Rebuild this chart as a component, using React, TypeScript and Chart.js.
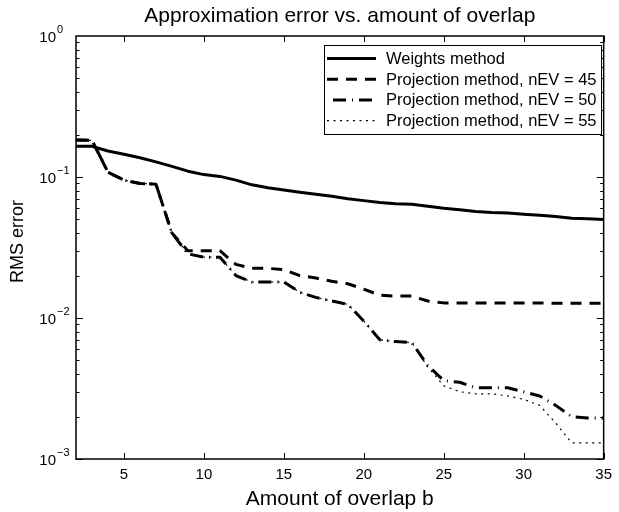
import React, { useEffect, useRef } from "react";
import { Chart, registerables } from "chart.js";

Chart.register(...registerables);

// Overlap b (x values)
const overlap = [
  2, 3, 4, 5, 6, 7, 8, 9, 10, 11, 12, 13, 14, 15, 16, 17, 18, 19, 20, 21, 22,
  23, 24, 25, 26, 27, 28, 29, 30, 31, 32, 33, 34, 35,
];

// RMS error for each method
const weightsMethod = [
  0.165, 0.165, 0.153, 0.145, 0.137, 0.128, 0.119, 0.11, 0.104, 0.101, 0.095,
  0.088, 0.084, 0.081, 0.078, 0.0755, 0.073, 0.07, 0.068, 0.066, 0.0645, 0.064,
  0.062, 0.06, 0.0585, 0.057, 0.056, 0.0555, 0.0545, 0.0535, 0.0525, 0.051,
  0.0505, 0.05,
];
const projection45 = [
  0.183, 0.182, 0.108, 0.095, 0.09, 0.089, 0.04, 0.03, 0.03, 0.03, 0.024,
  0.0225, 0.0225, 0.022, 0.02, 0.0192, 0.0182, 0.0175, 0.016, 0.0145, 0.0143,
  0.0143, 0.0132, 0.0128, 0.0128, 0.0128, 0.0128, 0.0128, 0.0128, 0.0128,
  0.0127, 0.0127, 0.0127, 0.0127,
];
const projection50 = [
  0.183, 0.182, 0.108, 0.095, 0.09, 0.089, 0.04, 0.0285, 0.027, 0.027, 0.02,
  0.018, 0.018, 0.018, 0.0152, 0.014, 0.0132, 0.0125, 0.0095, 0.007, 0.0068,
  0.0067, 0.0046, 0.0036, 0.0035, 0.0032, 0.0032, 0.0032, 0.003, 0.0028,
  0.0024, 0.002, 0.00195, 0.00195,
];
const projection55 = [
  0.183, 0.182, 0.108, 0.095, 0.09, 0.089, 0.04, 0.0285, 0.027, 0.027, 0.02,
  0.018, 0.018, 0.018, 0.0152, 0.014, 0.0132, 0.0125, 0.0095, 0.007, 0.0068,
  0.0067, 0.0045, 0.0033, 0.003, 0.0029, 0.0029, 0.0028, 0.00265, 0.0024,
  0.0018, 0.0013, 0.0013, 0.0013,
];

const seriesNames = [
  "Weights method",
  "Projection method, nEV = 45",
  "Projection method, nEV = 50",
  "Projection method, nEV = 55",
];

// Axis ticks
const xTicks = [5, 10, 15, 20, 25, 30, 35];
const yDecades = [1e-3, 1e-2, 1e-1, 1];
const yExponents = ["\u22123", "\u22122", "\u22121", "0"];

const FONT = '"Liberation Sans", Arial, Helvetica, sans-serif';

type LineStyle = { width: number; dash: number[]; offset: number };
const lineStyles: LineStyle[] = [
  { width: 3, dash: [], offset: 0 },
  { width: 3, dash: [11, 8], offset: 0 },
  { width: 3, dash: [13, 6, 1, 6], offset: 20 },
  { width: 1.2, dash: [2, 4.5], offset: 0 },
];

const toPoints = (ys: number[]) => overlap.map((b, i) => ({ x: b, y: ys[i] }));

// Frame, inward ticks, tick labels, titles and boxed legend
const axesDecor = {
  id: "axesDecor",
  afterDraw(chart: any) {
    const { ctx, chartArea, scales } = chart;
    const { left, right, top, bottom } = chartArea;
    const x = scales.x;
    const y = scales.y;
    ctx.save();

    // tick marks (inside the box, on all four sides)
    ctx.strokeStyle = "#000";
    ctx.lineWidth = 1;
    ctx.setLineDash([]);
    ctx.beginPath();
    for (const v of xTicks) {
      const px = Math.round(x.getPixelForValue(v)) + 0.5;
      ctx.moveTo(px, bottom);
      ctx.lineTo(px, bottom - 6);
      ctx.moveTo(px, top);
      ctx.lineTo(px, top + 6);
    }
    for (let k = 0; k < yDecades.length - 1; k++) {
      for (let m = 1; m <= 9; m++) {
        const v = yDecades[k] * m;
        const py = Math.round(y.getPixelForValue(v)) + 0.5;
        const len = m === 1 ? 7 : 3.5;
        ctx.moveTo(left, py);
        ctx.lineTo(left + len, py);
        ctx.moveTo(right, py);
        ctx.lineTo(right - len, py);
      }
    }
    ctx.stroke();

    // axes box
    ctx.lineWidth = 1.5;
    ctx.strokeRect(left, top, right - left, bottom - top);

    // y tick labels: 10 with superscript exponent
    ctx.fillStyle = "#000";
    yDecades.forEach((v, i) => {
      const py = y.getPixelForValue(v);
      ctx.font = `15px ${FONT}`;
      ctx.textAlign = "right";
      ctx.textBaseline = "alphabetic";
      ctx.fillText("10", 56, py + 6);
      ctx.font = `11px ${FONT}`;
      ctx.textAlign = "left";
      ctx.fillText(yExponents[i], 57, py - 3);
    });

    // title
    ctx.textAlign = "center";
    ctx.textBaseline = "alphabetic";
    ctx.font = `21px ${FONT}`;
    ctx.fillText("Approximation error vs. amount of overlap", (left + right) / 2, 22);

    // x axis label
    ctx.font = `21px ${FONT}`;
    ctx.fillText("Amount of overlap b", (left + right) / 2, 505);

    // y axis label
    ctx.save();
    ctx.translate(23, (top + bottom) / 2 - 6);
    ctx.rotate(-Math.PI / 2);
    ctx.font = `18px ${FONT}`;
    ctx.fillText("RMS error", 0, 0);
    ctx.restore();

    // legend
    const lx = 324;
    const ly = 45;
    const lw = 277;
    const lh = 89;
    ctx.fillStyle = "#fff";
    ctx.fillRect(lx, ly, lw, lh);
    ctx.strokeStyle = "#000";
    ctx.lineWidth = 1;
    ctx.strokeRect(lx + 0.5, ly + 0.5, lw, lh);
    seriesNames.forEach((name, i) => {
      const ry = ly + 13.5 + i * 20.7;
      const st = lineStyles[i];
      ctx.lineWidth = st.width;
      ctx.setLineDash(st.dash);
      ctx.lineDashOffset = st.offset;
      ctx.beginPath();
      ctx.moveTo(lx + 3, ry);
      ctx.lineTo(lx + 52, ry);
      ctx.stroke();
      ctx.setLineDash([]);
      ctx.lineDashOffset = 0;
      ctx.fillStyle = "#000";
      ctx.font = `16.5px ${FONT}`;
      ctx.textAlign = "left";
      ctx.textBaseline = "middle";
      ctx.fillText(name, lx + 62, ry + 1);
    });

    ctx.restore();
  },
};

export default function App() {
  const canvasRef = useRef<HTMLCanvasElement | null>(null);

  useEffect(() => {
    const canvas = canvasRef.current;
    if (!canvas) return;
    const seriesData = [weightsMethod, projection45, projection50, projection55];
    const chart = new Chart(canvas, {
      type: "line",
      data: {
        datasets: seriesData.map((ys, i) => ({
          label: seriesNames[i],
          data: toPoints(ys),
          borderColor: "#000",
          backgroundColor: "#000",
          borderWidth: lineStyles[i].width,
          borderDash: lineStyles[i].dash,
          borderJoinStyle: "round" as const,
          pointRadius: 0,
          fill: false,
          tension: 0,
        })),
      },
      options: {
        responsive: false,
        animation: false,
        devicePixelRatio: 1,
        layout: { padding: { top: 36, right: 8, left: 0, bottom: 0 } },
        plugins: {
          legend: { display: false },
          title: { display: false },
          tooltip: { enabled: false },
        },
        scales: {
          x: {
            type: "linear",
            min: 2,
            max: 35,
            grid: { display: false, drawTicks: false },
            border: { display: false },
            afterBuildTicks: (scale: any) => {
              scale.ticks = xTicks.map((v) => ({ value: v }));
            },
            afterFit: (scale: any) => {
              scale.height = 53;
            },
            ticks: {
              color: "#000",
              font: { family: FONT, size: 15 },
              padding: 7,
              maxRotation: 0,
              autoSkip: false,
            },
          },
          y: {
            type: "logarithmic",
            min: 1e-3,
            max: 1,
            grid: { display: false, drawTicks: false },
            border: { display: false },
            ticks: { display: false },
            afterFit: (scale: any) => {
              scale.width = 76;
            },
          },
        },
      },
      plugins: [axesDecor],
    });
    return () => chart.destroy();
  }, []);

  return (
    <div style={{ position: "fixed", left: 0, top: 0, width: 619, height: 512, background: "#fff" }}>
      <canvas ref={canvasRef} width={619} height={512} style={{ display: "block" }} />
    </div>
  );
}
